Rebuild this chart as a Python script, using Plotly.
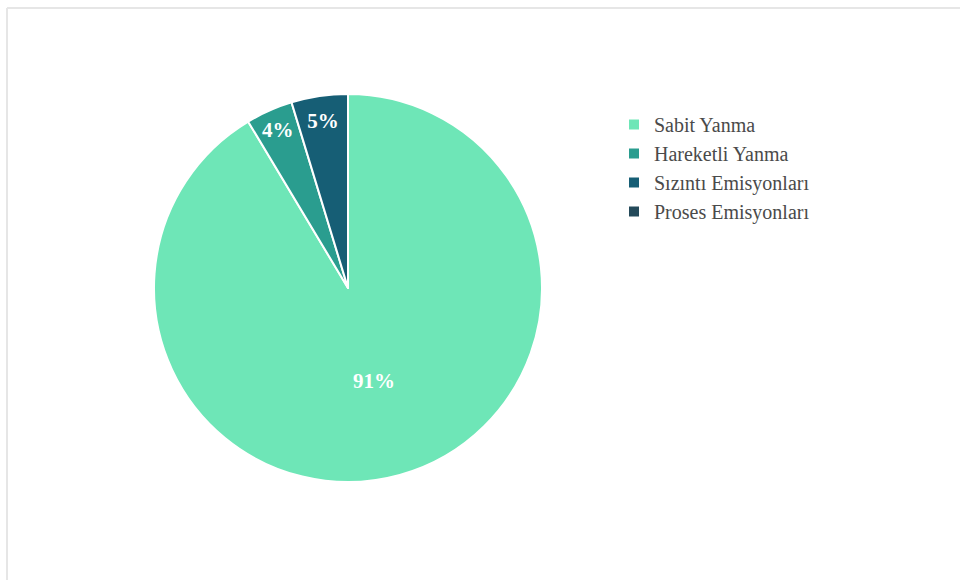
import plotly.graph_objects as go

labels = ["Sabit Yanma", "Hareketli Yanma", "Sızıntı Emisyonları", "Proses Emisyonları"]
values = [91.4, 3.9, 4.7, 0.0]
colors = ["#6ee6b7", "#2a9d8f", "#165e75", "#244a5a"]

W, H = 960, 580
cx, cy, r = 348, 288, 194

fig = go.Figure(go.Pie(
    labels=labels,
    values=values,
    sort=False,
    direction="clockwise",
    rotation=0,
    marker=dict(colors=colors, line=dict(color="#ffffff", width=2)),
    textinfo="percent",
    texttemplate="%{percent:.0%}",
    textposition="inside",
    insidetextorientation="horizontal",
    textfont=dict(family="Liberation Serif", size=21, color="#ffffff", weight="bold"),
    domain=dict(x=[(cx - r) / W, (cx + r) / W], y=[1 - (cy + r) / H, 1 - (cy - r) / H]),
    hoverinfo="label+percent",
))

fig.update_layout(
    width=W, height=H,
    margin=dict(l=0, r=0, t=0, b=0),
    paper_bgcolor="#ffffff",
    plot_bgcolor="#ffffff",
    font=dict(family="Liberation Serif", color="#4a4a4a"),
    legend=dict(
        x=614 / W, y=1 - 105 / H, xanchor="left", yanchor="top",
        font=dict(family="Liberation Serif", size=20, color="#4a4a4a"),
        itemwidth=30,
    ),
    shapes=[
        dict(type="line", xref="paper", yref="paper", x0=7 / W, x1=1, y0=1 - 8 / H, y1=1 - 8 / H,
             line=dict(color="#e6e6e6", width=2)),
        dict(type="line", xref="paper", yref="paper", x0=7 / W, x1=7 / W, y0=0, y1=1 - 8 / H,
             line=dict(color="#e6e6e6", width=2)),
    ],
)

fig.write_html("out.html")
